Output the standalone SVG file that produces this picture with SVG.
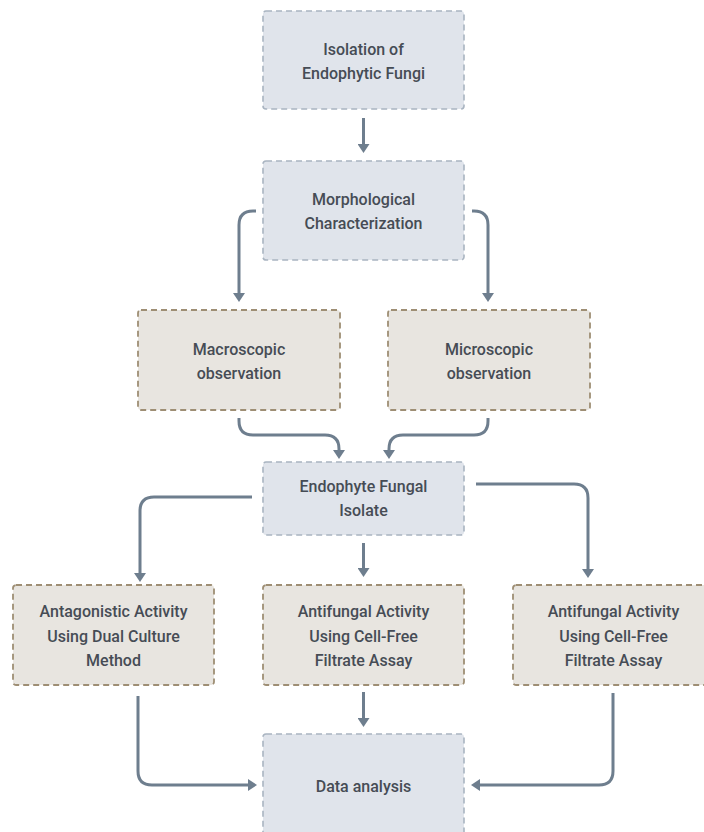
<svg xmlns="http://www.w3.org/2000/svg" width="704" height="832" viewBox="0 0 704 832">
<style>
.blue{fill:#e0e4eb;stroke:#a9b4c1;stroke-width:1.6;stroke-dasharray:6 4}
.beige{fill:#e8e5e0;stroke:#9e8e74;stroke-width:1.8;stroke-dasharray:6 4}
text{font-family:"Roboto","Liberation Sans",sans-serif;font-size:16px;font-weight:500;fill:#464c55;text-anchor:middle}
.conn path{fill:none;stroke:#6e7e8e;stroke-width:3;marker-end:url(#ah)}
</style>
<defs>
<marker id="ah" viewBox="0 0 9 12" refX="3" refY="6" markerWidth="9" markerHeight="12" markerUnits="userSpaceOnUse" orient="auto">
<path d="M0,0 L9,6 L0,12 z" fill="#6e7e8e"/>
</marker>
</defs>
<rect width="704" height="832" fill="#ffffff"/>
<g class="conn" id="connectors">
<path d="M363.5 118 V147"/>
<path d="M256 211 H253 Q239 211 239 225 V296"/>
<path d="M472 211 H474 Q488 211 488 225 V296"/>
<path d="M239 418 V421 Q239 435 253 435 H325 Q339 435 339 449 V453"/>
<path d="M488 418 V421 Q488 435 474 435 H403 Q389 435 389 449 V453"/>
<path d="M252 497 H154 Q140 497 140 511 V576"/>
<path d="M476 484 H574 Q588 484 588 498 V572"/>
<path d="M363.5 543 V571"/>
<path d="M138 696 V771 Q138 785 152 785 H251"/>
<path d="M363.5 692 V721"/>
<path d="M613 693 V771 Q613 785 599 785 H477"/>
</g>
<g id="isolation">
<rect class="blue" x="263" y="11" width="201" height="98" rx="3"/>
<text x="363.5" y="55">Isolation of</text>
<text x="363.5" y="79">Endophytic Fungi</text>
</g>
<g id="morphological">
<rect class="blue" x="263" y="161" width="201" height="99" rx="3"/>
<text x="363.5" y="205">Morphological</text>
<text x="363.5" y="229">Characterization</text>
</g>
<g id="macroscopic">
<rect class="beige" x="138" y="310" width="202" height="100" rx="3"/>
<text x="239" y="355">Macroscopic</text>
<text x="239" y="379">observation</text>
</g>
<g id="microscopic">
<rect class="beige" x="388" y="310" width="202" height="100" rx="3"/>
<text x="489" y="355">Microscopic</text>
<text x="489" y="379">observation</text>
</g>
<g id="endophyte">
<rect class="blue" x="263" y="462" width="201" height="73" rx="3"/>
<text x="363.5" y="492">Endophyte Fungal</text>
<text x="363.5" y="516">Isolate</text>
</g>
<g id="antagonistic">
<rect class="beige" x="13" y="585" width="201" height="100" rx="3"/>
<text x="113.5" y="617">Antagonistic Activity</text>
<text x="113.5" y="642">Using Dual Culture</text>
<text x="113.5" y="666">Method</text>
</g>
<g id="antifungal1">
<rect class="beige" x="263" y="585" width="201" height="100" rx="3"/>
<text x="363.5" y="617">Antifungal Activity</text>
<text x="363.5" y="642">Using Cell-Free</text>
<text x="363.5" y="666">Filtrate Assay</text>
</g>
<g id="antifungal2">
<rect class="beige" x="513" y="585" width="201" height="100" rx="3"/>
<text x="613.5" y="617">Antifungal Activity</text>
<text x="613.5" y="642">Using Cell-Free</text>
<text x="613.5" y="666">Filtrate Assay</text>
</g>
<g id="data">
<rect class="blue" x="263" y="734" width="201" height="104" rx="3"/>
<text x="363.5" y="792">Data analysis</text>
</g>
</svg>
